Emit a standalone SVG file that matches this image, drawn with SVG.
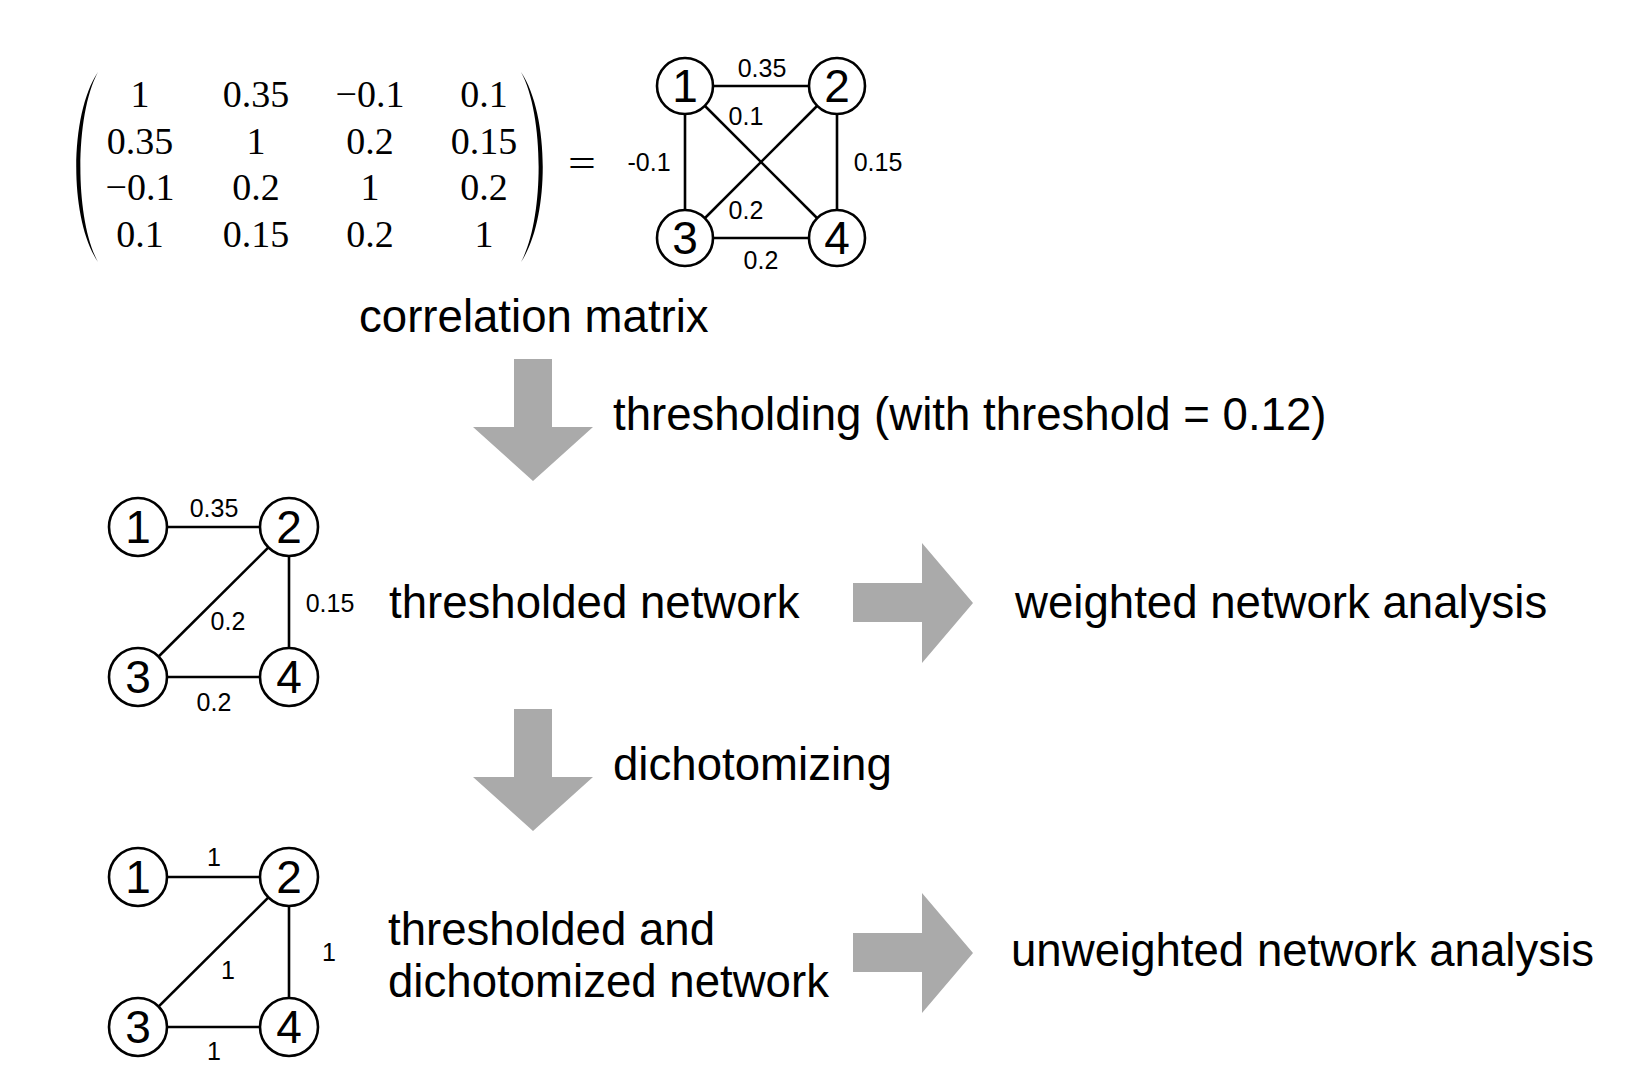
<svg xmlns="http://www.w3.org/2000/svg" width="1629" height="1083" viewBox="0 0 1629 1083">
<style>
.mat{font-family:"Liberation Serif","DejaVu Serif",serif;font-size:38px;fill:#000;text-anchor:middle}
.lbl{font-family:"Liberation Sans",Arial,sans-serif;font-size:25px;fill:#000;text-anchor:middle}
.nd circle{fill:#fff;stroke:#000;stroke-width:2.6}
.nd text{font-family:"Liberation Sans",Arial,sans-serif;font-size:46px;fill:#000;text-anchor:middle}
.big{font-family:"Liberation Sans",Arial,sans-serif;font-size:45.6px;fill:#000}
.edge{stroke:#000;stroke-width:2.6;fill:none}
.arr{fill:#aaaaaa}
</style>
<rect width="1629" height="1083" fill="#fff"/>

<g id="matrix">
<path d="M98,72 C69,115 69,219 98,262 C74.5,219 74.5,115 98,72 Z" fill="#000"/>
<path d="M521,72 C550,115 550,219 521,262 C544.5,219 544.5,115 521,72 Z" fill="#000"/>
<text class="mat" x="140" y="107">1</text>
<text class="mat" x="256" y="107">0.35</text>
<text class="mat" x="370" y="107">−0.1</text>
<text class="mat" x="484" y="107">0.1</text>
<text class="mat" x="140" y="154">0.35</text>
<text class="mat" x="256" y="154">1</text>
<text class="mat" x="370" y="154">0.2</text>
<text class="mat" x="484" y="154">0.15</text>
<text class="mat" x="140" y="200">−0.1</text>
<text class="mat" x="256" y="200">0.2</text>
<text class="mat" x="370" y="200">1</text>
<text class="mat" x="484" y="200">0.2</text>
<text class="mat" x="140" y="247">0.1</text>
<text class="mat" x="256" y="247">0.15</text>
<text class="mat" x="370" y="247">0.2</text>
<text class="mat" x="484" y="247">1</text>
<text class="mat" transform="translate(582,176) scale(1.3,1)">=</text>
</g>

<g id="connectors">
<line class="edge" x1="685" y1="86" x2="837" y2="86"/>
<line class="edge" x1="685" y1="86" x2="685" y2="238"/>
<line class="edge" x1="837" y1="86" x2="837" y2="238"/>
<line class="edge" x1="685" y1="238" x2="837" y2="238"/>
<line class="edge" x1="685" y1="86" x2="837" y2="238"/>
<line class="edge" x1="837" y1="86" x2="685" y2="238"/>

<line class="edge" x1="138" y1="527" x2="289" y2="527"/>
<line class="edge" x1="289" y1="527" x2="138" y2="677"/>
<line class="edge" x1="289" y1="527" x2="289" y2="677"/>
<line class="edge" x1="138" y1="677" x2="289" y2="677"/>

<line class="edge" x1="138" y1="877" x2="289" y2="877"/>
<line class="edge" x1="289" y1="877" x2="138" y2="1027"/>
<line class="edge" x1="289" y1="877" x2="289" y2="1027"/>
<line class="edge" x1="138" y1="1027" x2="289" y2="1027"/>
</g>

<g id="edge-labels">
<text class="lbl" x="762" y="77">0.35</text>
<text class="lbl" x="746" y="125">0.1</text>
<text class="lbl" x="649" y="171">-0.1</text>
<text class="lbl" x="878" y="171">0.15</text>
<text class="lbl" x="746" y="219">0.2</text>
<text class="lbl" x="761" y="269">0.2</text>

<text class="lbl" x="214" y="517">0.35</text>
<text class="lbl" x="330" y="612">0.15</text>
<text class="lbl" x="228" y="630">0.2</text>
<text class="lbl" x="214" y="711">0.2</text>

<text class="lbl" x="214" y="866">1</text>
<text class="lbl" x="329" y="961">1</text>
<text class="lbl" x="228" y="979">1</text>
<text class="lbl" x="214" y="1060">1</text>
</g>

<g id="g1-n1" class="nd"><circle cx="685" cy="86" r="28"/><text x="685" y="102">1</text></g>
<g id="g1-n2" class="nd"><circle cx="837" cy="86" r="28"/><text x="837" y="102">2</text></g>
<g id="g1-n3" class="nd"><circle cx="685" cy="238" r="28"/><text x="685" y="254">3</text></g>
<g id="g1-n4" class="nd"><circle cx="837" cy="238" r="28"/><text x="837" y="254">4</text></g>

<g id="g2-n1" class="nd"><circle cx="138" cy="527" r="29"/><text x="138" y="543">1</text></g>
<g id="g2-n2" class="nd"><circle cx="289" cy="527" r="29"/><text x="289" y="543">2</text></g>
<g id="g2-n3" class="nd"><circle cx="138" cy="677" r="29"/><text x="138" y="693">3</text></g>
<g id="g2-n4" class="nd"><circle cx="289" cy="677" r="29"/><text x="289" y="693">4</text></g>

<g id="g3-n1" class="nd"><circle cx="138" cy="877" r="29"/><text x="138" y="893">1</text></g>
<g id="g3-n2" class="nd"><circle cx="289" cy="877" r="29"/><text x="289" y="893">2</text></g>
<g id="g3-n3" class="nd"><circle cx="138" cy="1027" r="29"/><text x="138" y="1043">3</text></g>
<g id="g3-n4" class="nd"><circle cx="289" cy="1027" r="29"/><text x="289" y="1043">4</text></g>

<g id="arrows">
<polygon class="arr" points="514,359 552,359 552,427 593,427 533,481 473,427 514,427"/>
<polygon class="arr" points="514,709 552,709 552,777 593,777 533,831 473,777 514,777"/>
<polygon class="arr" points="853,583 922,583 922,543 973,603 922,663 922,622 853,622"/>
<polygon class="arr" points="853,933 922,933 922,893 973,953 922,1013 922,972 853,972"/>
</g>

<g id="texts">
<text class="big" x="359" y="332">correlation matrix</text>
<text class="big" x="613" y="430">thresholding (with threshold = 0.12)</text>
<text class="big" x="389" y="618">thresholded network</text>
<text class="big" x="1015" y="618">weighted network analysis</text>
<text class="big" x="613" y="780">dichotomizing</text>
<text class="big" x="388" y="945">thresholded and</text>
<text class="big" x="388" y="997">dichotomized network</text>
<text class="big" x="1011" y="966">unweighted network analysis</text>
</g>
</svg>
